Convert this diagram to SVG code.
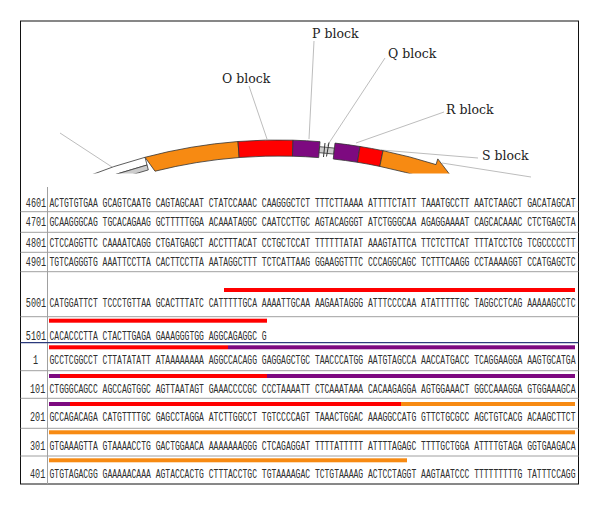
<svg xmlns="http://www.w3.org/2000/svg" width="600" height="506" viewBox="0 0 600 506">
<style>
.lbl{font-family:"DejaVu Serif","Liberation Serif",serif;font-size:12.5px;fill:#222}
.seq{font-family:"Liberation Mono","DejaVu Sans Mono",monospace;font-size:8.05px;fill:#2e2e2e}
.num{font-family:"Liberation Mono","DejaVu Sans Mono",monospace;font-size:8.5px;fill:#2e2e2e}
.lead{stroke:#bdbdbd;stroke-width:1;fill:none}
.blk{stroke:#333;stroke-width:0.8}
.or{fill:#f78a12}
.rd{fill:#ff0000}
.pu{fill:#7d0a80}
.sep{stroke:#a0a0a0;stroke-width:1}
</style>
<defs>
<clipPath id="clipArc"><rect x="0" y="0" width="600" height="173.5"/></clipPath>
</defs>
<rect x="0" y="0" width="600" height="506" fill="#fff"/>
<rect x="20.5" y="21" width="558" height="463" fill="none" stroke="#111" stroke-width="1"/>

<g id="connectors">
<line class="lead" x1="60" y1="133" x2="112" y2="167"/>
<line class="lead" x1="249" y1="86" x2="267" y2="139"/>
<line class="lead" x1="314" y1="41" x2="309" y2="139"/>
<line class="lead" x1="385" y1="58" x2="327" y2="146"/>
<line class="lead" x1="444" y1="112" x2="356" y2="143"/>
<line class="lead" x1="478" y1="158" x2="381" y2="150"/>
<line class="lead" x1="442" y1="163" x2="531" y2="177"/>
</g>

<g id="arc" clip-path="url(#clipArc)">
<g id="backbone">
<path class="blk" fill="#fff" d="M83.2,177.9 A520,520 0 0 1 145,157.3 L147.05,165 A512,512 0 0 0 86.2,185.3 Z"/>
<path class="blk" fill="#cccccc" d="M86.2,185.3 A512,512 0 0 1 147.05,165 L148.3,169.9 A507,507 0 0 0 88.1,189.9 Z"/>
</g>
<g id="block-O-orange"><path class="blk or" d="M145,157.3 A520,520 0 0 1 238,141.5 L239.2,157.5 A504,504 0 0 0 155,171.2 Z"/></g>
<g id="block-O"><path class="blk rd" d="M238,141.5 A520,520 0 0 1 293,140.2 L292.5,156.2 A504,504 0 0 0 239.2,157.5 Z"/></g>
<g id="block-P"><path class="blk pu" d="M293,140.2 A520,520 0 0 1 320,141.7 L318.7,157.6 A504,504 0 0 0 292.5,156.2 Z"/></g>
<g id="link">
<path class="blk" fill="#cccccc" d="M319.6,146.7 A515,515 0 0 1 334.45,148.1 L333.8,154.1 A509,509 0 0 0 319.1,152.7 Z"/>
<line x1="325" y1="143" x2="323.5" y2="157" stroke="#333" stroke-width="1"/>
<line x1="329" y1="142.5" x2="326.5" y2="156.5" stroke="#333" stroke-width="1"/>
</g>
<g id="block-Q"><path class="blk pu" d="M335,143.1 A520,520 0 0 1 360,146.5 L357.5,162.3 A504,504 0 0 0 333.25,159 Z"/></g>
<g id="block-R"><path class="blk rd" d="M360,146.5 A520,520 0 0 1 383,150.7 L379.8,166.4 A504,504 0 0 0 357.5,162.3 Z"/></g>
<g id="block-S"><path class="blk or" d="M383,150.7 A520,520 0 0 1 436,164.6 L437.8,158.9 L452.7,178.3 L429.3,185.6 L431.1,179.8 A504,504 0 0 0 379.8,166.4 Z"/></g>
</g>

<g id="labels">
<g id="label-P"><text class="lbl" x="312" y="38">P block</text></g>
<g id="label-Q"><text class="lbl" x="388" y="58">Q block</text></g>
<g id="label-O"><text class="lbl" x="222" y="83">O block</text></g>
<g id="label-R"><text class="lbl" x="446" y="113.5">R block</text></g>
<g id="label-S"><text class="lbl" x="482" y="160">S block</text></g>
</g>

<g id="table">
<line class="sep" x1="47.5" y1="187" x2="47.5" y2="484"/>
<line class="sep" x1="20.5" y1="211.7" x2="578.5" y2="211.7"/>
<line class="sep" x1="20.5" y1="232.3" x2="578.5" y2="232.3"/>
<line class="sep" x1="20.5" y1="252.3" x2="578.5" y2="252.3"/>
<line class="sep" x1="20.5" y1="271.7" x2="578.5" y2="271.7"/>
<line class="sep" x1="20.5" y1="316.7" x2="578.5" y2="316.7"/>
<line x1="20.5" y1="342.7" x2="578.5" y2="342.7" stroke="#2b3a7c" stroke-width="1.3"/>
<line class="sep" x1="20.5" y1="370.7" x2="578.5" y2="370.7"/>
<line class="sep" x1="20.5" y1="398.3" x2="578.5" y2="398.3"/>
<line class="sep" x1="20.5" y1="428.3" x2="578.5" y2="428.3"/>
<line class="sep" x1="20.5" y1="456" x2="578.5" y2="456"/>

<g id="bars">
<rect class="rd" x="224" y="288" width="351" height="4"/>
<rect class="rd" x="49" y="318.7" width="218" height="4"/>
<rect class="rd" x="49" y="345.3" width="179" height="4"/>
<rect class="pu" x="228" y="345.3" width="347" height="4"/>
<rect class="pu" x="49" y="374" width="11" height="4"/>
<rect class="rd" x="60" y="374" width="207" height="4"/>
<rect class="pu" x="267" y="374" width="308" height="4"/>
<rect class="pu" x="49" y="402" width="21" height="4"/>
<rect class="rd" x="70" y="402" width="331" height="4"/>
<rect class="or" x="401" y="402" width="174" height="4"/>
<rect class="or" x="49" y="430.3" width="526" height="4"/>
<rect class="or" x="49" y="458.3" width="358" height="4"/>
</g>

<g id="numbers">
<text class="num" transform="translate(25.8,206.8) scale(1,1.42)">4601</text>
<text class="num" transform="translate(25.8,226.2) scale(1,1.42)">4701</text>
<text class="num" transform="translate(25.8,246.5) scale(1,1.42)">4801</text>
<text class="num" transform="translate(25.8,265.5) scale(1,1.42)">4901</text>
<text class="num" transform="translate(25.8,306.8) scale(1,1.42)">5001</text>
<text class="num" transform="translate(25.8,339.5) scale(1,1.42)">5101</text>
<text class="num" transform="translate(33,363.5) scale(1,1.42)">1</text>
<text class="num" transform="translate(30,392.5) scale(1,1.42)">101</text>
<text class="num" transform="translate(30,421.2) scale(1,1.42)">201</text>
<text class="num" transform="translate(30,450.2) scale(1,1.42)">301</text>
<text class="num" transform="translate(30,477.8) scale(1,1.42)">401</text>
</g>

<g id="sequences">
<text class="seq" transform="translate(49.5,206.8) scale(1,1.49)">ACTGTGTGAA GCAGTCAATG CAGTAGCAAT CTATCCAAAC CAAGGGCTCT TTTCTTAAAA ATTTTCTATT TAAATGCCTT AATCTAAGCT GACATAGCAT</text>
<text class="seq" transform="translate(49.5,226.2) scale(1,1.49)">GCAAGGGCAG TGCACAGAAG GCTTTTTGGA ACAAATAGGC CAATCCTTGC AGTACAGGGT ATCTGGGCAA AGAGGAAAAT CAGCACAAAC CTCTGAGCTA</text>
<text class="seq" transform="translate(49.5,246.5) scale(1,1.49)">CTCCAGGTTC CAAAATCAGG CTGATGAGCT ACCTTTACAT CCTGCTCCAT TTTTTTATAT AAAGTATTCA TTCTCTTCAT TTTATCCTCG TCGCCCCCTT</text>
<text class="seq" transform="translate(49.5,265.5) scale(1,1.49)">TGTCAGGGTG AAATTCCTTA CACTTCCTTA AATAGGCTTT TCTCATTAAG GGAAGGTTTC CCCAGGCAGC TCTTTCAAGG CCTAAAAGGT CCATGAGCTC</text>
<text class="seq" transform="translate(49.5,306.8) scale(1,1.49)">CATGGATTCT TCCCTGTTAA GCACTTTATC CATTTTTGCA AAAATTGCAA AAGAATAGGG ATTTCCCCAA ATATTTTTGC TAGGCCTCAG AAAAAGCCTC</text>
<text class="seq" transform="translate(49.5,339.5) scale(1,1.49)">CACACCCTTA CTACTTGAGA GAAAGGGTGG AGGCAGAGGC G</text>
<text class="seq" transform="translate(49.5,363.5) scale(1,1.49)">GCCTCGGCCT CTTATATATT ATAAAAAAAA AGGCCACAGG GAGGAGCTGC TAACCCATGG AATGTAGCCA AACCATGACC TCAGGAAGGA AAGTGCATGA</text>
<text class="seq" transform="translate(49.5,392.5) scale(1,1.49)">CTGGGCAGCC AGCCAGTGGC AGTTAATAGT GAAACCCCGC CCCTAAAATT CTCAAATAAA CACAAGAGGA AGTGGAAACT GGCCAAAGGA GTGGAAAGCA</text>
<text class="seq" transform="translate(49.5,421.2) scale(1,1.49)">GCCAGACAGA CATGTTTTGC GAGCCTAGGA ATCTTGGCCT TGTCCCCAGT TAAACTGGAC AAAGGCCATG GTTCTGCGCC AGCTGTCACG ACAAGCTTCT</text>
<text class="seq" transform="translate(49.5,450.2) scale(1,1.49)">GTGAAAGTTA GTAAAACCTG GACTGGAACA AAAAAAAGGG CTCAGAGGAT TTTTATTTTT ATTTTAGAGC TTTTGCTGGA ATTTTGTAGA GGTGAAGACA</text>
<text class="seq" transform="translate(49.5,477.8) scale(1,1.49)">GTGTAGACGG GAAAAACAAA AGTACCACTG CTTTACCTGC TGTAAAAGAC TCTGTAAAAG ACTCCTAGGT AAGTAATCCC TTTTTTTTTG TATTTCCAGG</text>
</g>
</g>
</svg>
